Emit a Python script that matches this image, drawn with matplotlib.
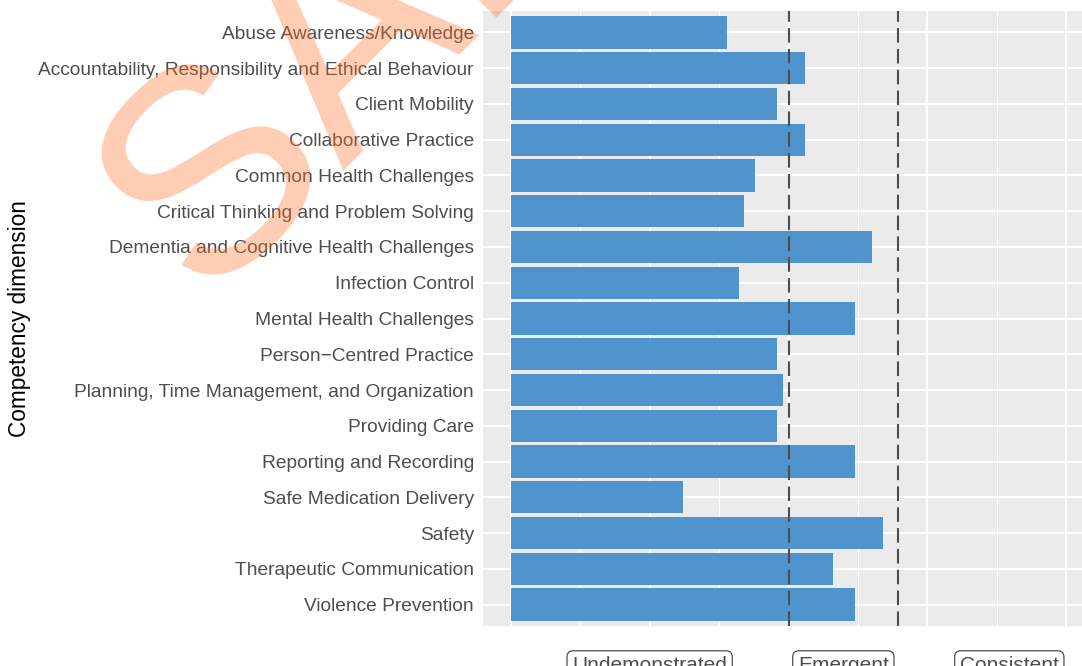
import numpy as np
import matplotlib
matplotlib.use("Agg")
import matplotlib.pyplot as plt
import matplotlib.transforms as mtransforms
from matplotlib.textpath import TextPath
from matplotlib.patches import PathPatch
from matplotlib.font_manager import FontProperties

plt.rcParams['font.family'] = ['Liberation Sans', 'DejaVu Sans']

# data
dimensions = [
    "Abuse Awareness/Knowledge",
    "Accountability, Responsibility and Ethical Behaviour",
    "Client Mobility",
    "Collaborative Practice",
    "Common Health Challenges",
    "Critical Thinking and Problem Solving",
    "Dementia and Cognitive Health Challenges",
    "Infection Control",
    "Mental Health Challenges",
    "Person\u2212Centred Practice",
    "Planning, Time Management, and Organization",
    "Providing Care",
    "Reporting and Recording",
    "Safe Medication Delivery",
    "Safety",
    "Therapeutic Communication",
    "Violence Prevention",
]
scores = [1.56, 2.12, 1.92, 2.12, 1.76, 1.68, 2.60, 1.64, 2.48,
          1.92, 1.96, 1.92, 2.48, 1.24, 2.68, 2.32, 2.48]
thresholds = [2.0, 2.79]
level_labels = ["Undemonstrated", "Emergent", "Consistent"]
level_pos = [1.0, 2.395, 3.59]

W, H = 1082, 666
fig = plt.figure(figsize=(W / 100, H / 100), dpi=100)
# panel runs past the right edge (the original was cropped)
ax = fig.add_axes([483 / W, 40 / H, (1094 - 483) / W, 615 / H])
ax.set_facecolor('#EBEBEB')

n = len(dimensions)
ypos = np.arange(n)
ax.barh(ypos, scores, height=0.9, color='#4F94CD', zorder=3)

for t in thresholds:
    ax.axvline(t, color='#4D4D4D', lw=1.5, linestyle=(0, (7, 3)), zorder=4)

ax.set_xlim(-0.2, 4.2)
ax.set_ylim(n - 1 + 0.6, -0.6)

ax.set_xticks([0, 1, 2, 3, 4])
ax.set_xticks(np.arange(0.5, 4.5, 1.0), minor=True)
ax.set_xticklabels([])
ax.set_yticks(ypos)
ax.set_yticklabels(dimensions, fontsize=13.75, color='#4D4D4D')
ax.tick_params(axis='both', which='both', length=0)
ax.tick_params(axis='y', pad=6.5)

ax.grid(True, which='major', color='white', lw=1.5, zorder=1)
ax.grid(True, which='minor', axis='x', color='white', lw=0.75, zorder=1)
for s in ax.spines.values():
    s.set_visible(False)

ax.set_ylabel("Competency dimension", fontsize=16.3, color='black')
ax.yaxis.set_label_coords(-(483 - 31) / 611, 0.5)

# level labels sit below the panel (cut by the bottom edge, as in the original)
trans = mtransforms.blended_transform_factory(ax.transData, ax.transAxes)
for lab, x in zip(level_labels, level_pos):
    ax.text(x, -(665.5 - 626) / 615, lab, transform=trans, ha='center', va='center',
            fontsize=15, color='#4D4D4D', clip_on=False,
            bbox=dict(boxstyle='round,pad=0.25,rounding_size=0.3', fc='white',
                      ec='#4D4D4D', lw=0.9))

# watermark, placed in pixel coordinates
em = 290
wm = TextPath((0, 0), "SAMPLE", size=em, prop=FontProperties(family='Liberation Sans'))
wm_tr = mtransforms.Affine2D().rotate_deg(45).translate(206, H - 308)
fig.add_artist(PathPatch(wm, transform=wm_tr, fc='#FF6F28', ec='none',
                         alpha=0.35, zorder=10))

fig.savefig("out.png", dpi=100)
